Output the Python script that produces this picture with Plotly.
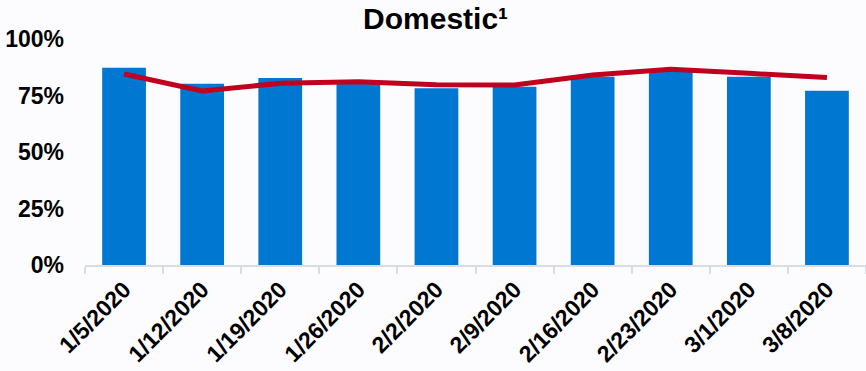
import plotly.graph_objects as go

categories = ["1/5/2020", "1/12/2020", "1/19/2020", "1/26/2020", "2/2/2020",
              "2/9/2020", "2/16/2020", "2/23/2020", "3/1/2020", "3/8/2020"]
bar_values = [0.873, 0.802, 0.827, 0.805, 0.782, 0.789, 0.833, 0.855, 0.833, 0.771]
line_values = [0.845, 0.770, 0.804, 0.811, 0.798, 0.796, 0.841, 0.866, 0.848, 0.830]
y_ticks = [0, 0.25, 0.5, 0.75, 1.0]
y_tick_labels = ["0%", "25%", "50%", "75%", "100%"]

BAR_COLOR = "#0077D0"
LINE_COLOR = "#C0001E"
FONT = "Liberation Sans, Arial, sans-serif"

fig = go.Figure()
fig.add_trace(go.Bar(x=categories, y=bar_values, marker=dict(color=BAR_COLOR, line=dict(width=0)),
                     showlegend=False))
fig.add_trace(go.Scatter(x=categories, y=line_values, mode="lines",
                         line=dict(color=LINE_COLOR, width=5), showlegend=False))

fig.update_layout(
    width=866, height=371,
    margin=dict(l=85, r=0, t=39, b=106),
    paper_bgcolor="#FCFCFE", plot_bgcolor="#FCFCFE",
    bargap=0.44,
    font=dict(family=FONT, color="#000000"),
    title=dict(text="<b>Domestic¹</b>", x=0.503, xanchor="center", xref="container",
               y=0.95, yanchor="middle", yref="container",
               font=dict(size=30, family=FONT, color="#000000")),
    xaxis=dict(showgrid=False, showline=True, linecolor="#D8DDE5", linewidth=2,
               ticks="outside", tickson="boundaries", ticklen=7, tickcolor="#D8DDE5", tickwidth=2,
               tickangle=-45, tickfont=dict(size=23, family=FONT, color="#000000"),
               tickprefix="<b>", ticksuffix="</b>"),
    yaxis=dict(range=[0, 1.0], tickvals=y_ticks, ticktext=["<b>%s</b>" % t for t in y_tick_labels],
               showgrid=False, zeroline=False, showline=False,
               tickfont=dict(size=23, family=FONT, color="#000000"), ticklabelstandoff=20),
)

fig.write_html("out.html")
